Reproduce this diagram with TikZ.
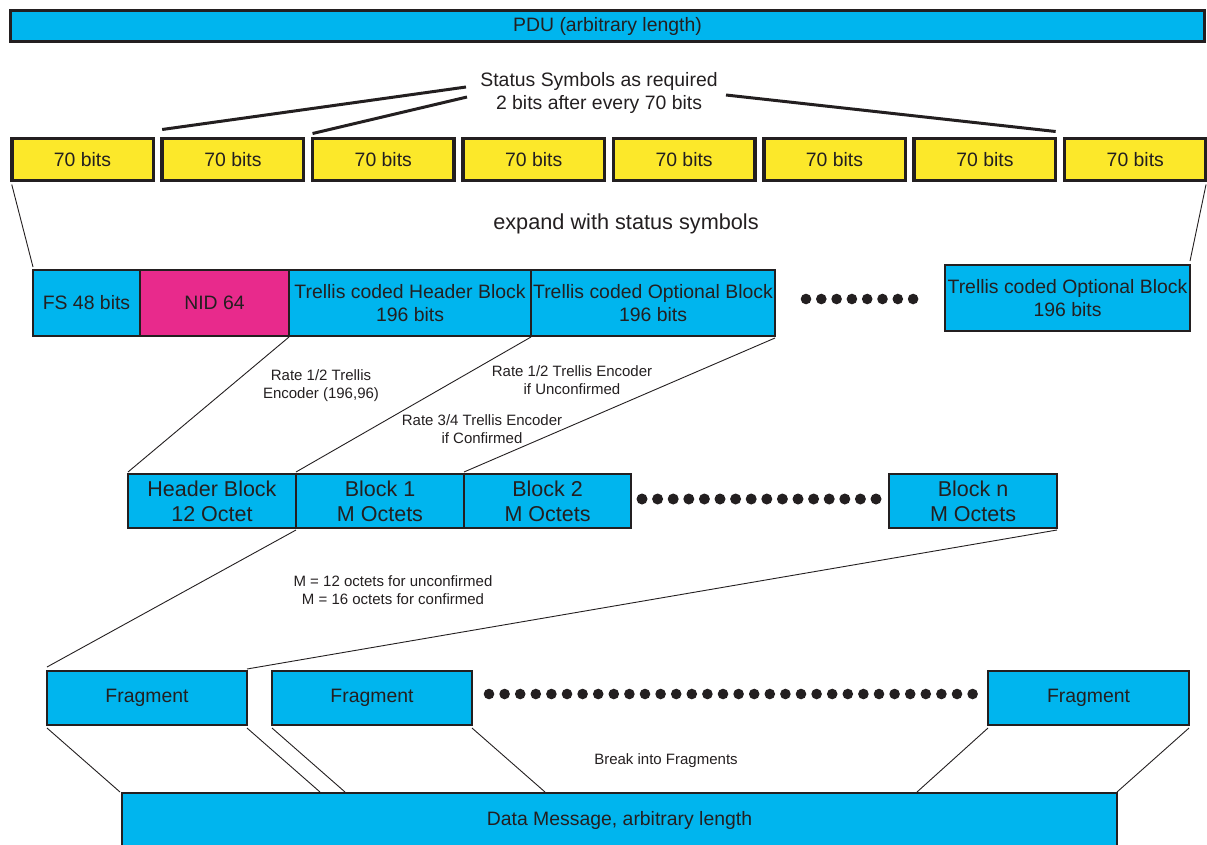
\documentclass[tikz,border=0pt]{standalone}
\usepackage{fontspec}
\setmainfont{Liberation Sans}
\definecolor{cy}{RGB}{0,181,238}
\definecolor{yl}{RGB}{252,232,42}
\definecolor{mg}{RGB}{232,42,140}
\definecolor{dk}{RGB}{35,31,32}
\begin{document}
\begin{tikzpicture}[x=1pt,y=-1pt,
  box/.style={draw=dk, line width=2pt, inner sep=0pt, outer sep=0pt, anchor=north west, align=center, text=dk, fill=cy},
  bigf/.style={font=\fontsize{19.4}{23}\selectfont},
  midf/.style={font=\fontsize{21.5}{25}\selectfont},
  smallf/.style={font=\fontsize{15}{18}\selectfont, text=dk, align=center, inner sep=0pt},
  yb/.style={box, bigf, fill=yl, line width=3.5pt, minimum width=141.5pt, minimum height=42pt},
  r3/.style={box, bigf, minimum height=66pt},
  r4/.style={box, midf, minimum width=168pt, minimum height=54pt},
  fr/.style={box, bigf, minimum width=200pt, minimum height=54pt},
  conn/.style={draw=dk, line width=0.9pt},
  thick line/.style={draw=dk, line width=3pt},
  dotc/.style={fill=dk}
]
\useasboundingbox (0,0) rectangle (1207,844);
\clip (0,0) rectangle (1207,844);

% PDU
\node[box, bigf, line width=3pt, minimum width=1194pt, minimum height=31pt] (pdu) at (10.5,10.5) {PDU (arbitrary length)};

% status label
\node[bigf, text=dk, align=center, inner sep=0pt] (status) at (599,93) {Status Symbols as required\\2 bits after every 70 bits};

% yellow boxes
\foreach \i in {0,...,7} {
  \node[yb] (y\i) at ({11.75+\i*150.4},138.5) {70 bits};
}

% status lines
\coordinate (s1) at (466,87);
\coordinate (s2) at (467,97);
\coordinate (s3) at (726,95);
\path[thick line] ([yshift=9pt]y1.north west) -- (s1);
\path[thick line] ([yshift=5pt]y2.north west) -- (s2);
\path[thick line] (s3) -- ([yshift=7pt]y6.north east);

\node[font=\fontsize{21.7}{25}\selectfont, text=dk, inner sep=0pt] (expand) at (626,224) {expand with status symbols};

% row 3
\node[r3, minimum width=107pt] (fs) at (33,270) {FS 48 bits};
\node[r3, fill=mg, minimum width=149pt] (nid) at (140,270) {NID 64};
\node[r3, minimum width=242pt] (hb) at (289,270) {Trellis coded Header Block\\196 bits};
\node[r3, minimum width=244pt] (ob) at (531,270) {Trellis coded Optional Block\\196 bits};
\node[r3, minimum width=245pt] (obn) at (945,265) {Trellis coded Optional Block\\196 bits};
\foreach \k in {0,...,7} { \fill[dotc] ({806+\k*15.3},299) circle (5.3pt); }

\path[conn] ([yshift=-4pt]y0.south west) -- ([yshift=3pt]fs.north west);
\path[conn] ([yshift=-4pt]y7.south east) -- ([yshift=4pt]obn.north east);

% labels row 3
\node[smallf] (l1) at (321,386) {Rate 1/2 Trellis\\Encoder (196,96)};
\node[smallf] (l2) at (572,380) {Rate 1/2 Trellis Encoder\\if Unconfirmed};
\node[smallf] (l3) at (482,429) {Rate 3/4 Trellis Encoder\\if Confirmed};

% row 4
\node[r4] (h4) at (128,474) {Header Block\\12 Octet};
\node[r4] (b1) at (296,474) {Block 1\\M Octets};
\node[r4, minimum width=167pt] (b2) at (464,474) {Block 2\\M Octets};
\node[r4] (bn) at (889,474) {Block n\\M Octets};
\foreach \k in {0,...,15} { \fill[dotc] ({642+\k*15.6},499) circle (5.5pt); }

\path[conn] ([yshift=-1pt]hb.south west) -- ([yshift=2pt]h4.north west);
\path[conn] ([yshift=-1pt]ob.south west) -- ([yshift=2pt]b1.north west);
\path[conn] ([yshift=-2pt]ob.south east) -- ([yshift=2pt]b2.north west);

\node[smallf] (mlab) at (393,590) {M = 12 octets for unconfirmed\\M = 16 octets for confirmed};

% row 5
\node[fr] (f1) at (47,671) {Fragment};
\node[fr] (f2) at (272,671) {Fragment};
\node[fr, minimum width=201pt] (f3) at (988,671) {Fragment};
\foreach \k in {0,...,31} { \fill[dotc] ({489+\k*15.6},694) circle (5.3pt); }

\path[conn] ([yshift=-2pt]b1.south west) -- ([yshift=4pt]f1.north west);
\path[conn] ([yshift=-2pt]bn.south east) -- ([yshift=2pt]f1.north east);

% data message
\node[box, bigf, minimum width=995pt, minimum height=55pt] (dm) at (122,793) {Data Message, arbitrary length};
\node[smallf] (brk) at (666,761) {Break into Fragments};

\coordinate (d1) at (320,792);
\coordinate (d2) at (345,792);
\coordinate (d3) at (545,792);
\coordinate (d4) at (917,792);
\path[conn] ([yshift=-3pt]f1.south west) -- ([xshift=-2pt,yshift=1pt]dm.north west);
\path[conn] ([yshift=-3pt]f1.south east) -- (d1);
\path[conn] ([yshift=-3pt]f2.south west) -- (d2);
\path[conn] ([yshift=-3pt]f2.south east) -- (d3);
\path[conn] ([yshift=-3pt]f3.south west) -- (d4);
\path[conn] ([yshift=-3pt]f3.south east) -- ([yshift=1pt]dm.north east);
\end{tikzpicture}
\end{document}
